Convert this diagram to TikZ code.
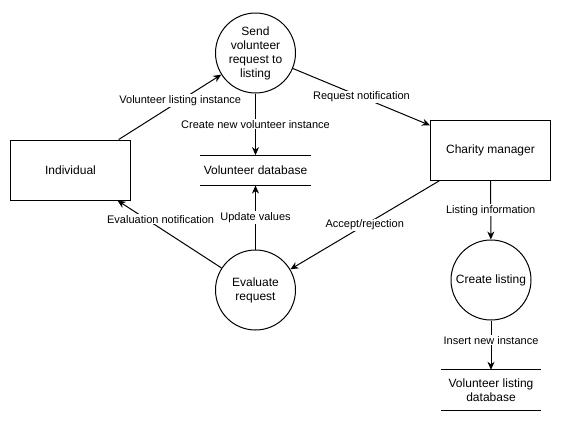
\documentclass[tikz,border=0pt]{standalone}
\usepackage{fontspec}
\setmainfont{Liberation Sans}
\usetikzlibrary{arrows.meta}
\begin{document}
\begin{tikzpicture}[x=1pt,y=-1pt,
  every node/.style={font=\fontsize{12}{14}\selectfont, align=center},
  proc/.style={circle, draw, line width=1pt, minimum size=80pt, inner sep=0pt},
  ent/.style={rectangle, draw, line width=1pt, minimum width=120pt, minimum height=60pt},
  dbstore/.style={minimum width=#1, minimum height=30pt, inner sep=0pt},
  dbline/.style={line width=1pt},
  flow/.style={draw, line width=1pt, -{Stealth[length=8pt,width=7pt,inset=2.5pt]}},
  lbl/.style={font=\fontsize{11}{13}\selectfont, fill=white, inner sep=1pt}]
\useasboundingbox (0,0) rectangle (561,421);
\fill[white] (0,0) rectangle (561,421);

\node[proc] (send) at (255.5,53) {Send\\volunteer\\request to\\listing};
\node[ent] (ind) at (70.5,170) {Individual};
\node[dbstore=110pt] (vdb) at (255.5,170.3) {Volunteer database};
\node[ent] (cm) at (490.5,150.3) {Charity manager};
\node[proc] (eval) at (255.5,290) {Evaluate\\request};
\node[proc] (cl) at (491,280) {Create listing};
\node[dbstore=99pt, minimum height=40pt] (vldb) at (491,390) {Volunteer listing\\database};

\draw[dbline] (vdb.north west) -- (vdb.north east) (vdb.south west) -- (vdb.south east);
\draw[dbline] (vldb.north west) -- (vldb.north east) (vldb.south west) -- (vldb.south east);

\draw[flow] (ind) -- node[lbl, pos=0.6]{Volunteer listing instance} (send);
\draw[flow] (send) -- node[lbl, pos=0.5]{Request notification} (cm);
\draw[flow] (send) -- node[lbl, pos=0.5]{Create new volunteer instance} (vdb);
\draw[flow] (cm) -- node[lbl, pos=0.5]{Accept/rejection} (eval);
\draw[flow] (eval) -- node[lbl, pos=0.5]{Update values} (vdb);
\draw[flow] (eval) -- node[lbl, pos=0.72, xshift=14pt]{Evaluation notification} (ind);
\draw[flow] (cm) -- node[lbl, pos=0.5]{Listing information} (cl);
\draw[flow] (cl) -- node[lbl, pos=0.4]{Insert new instance} (vldb);
\end{tikzpicture}
\end{document}
